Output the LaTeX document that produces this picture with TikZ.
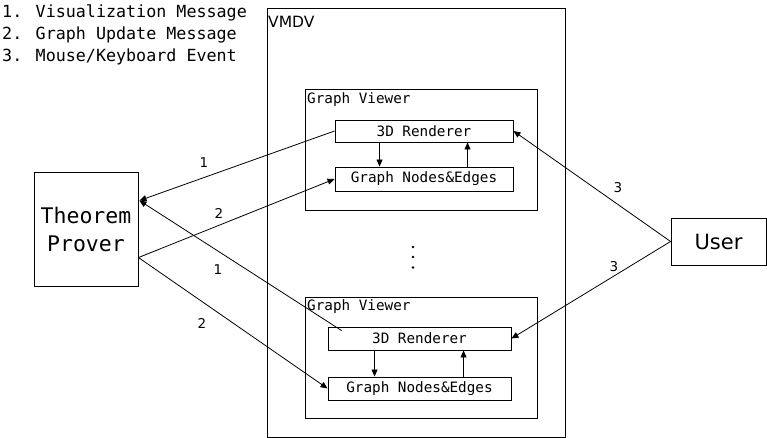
\documentclass[tikz,border=0pt]{standalone}
\usepackage{fontspec}
\newfontfamily\monof{DejaVu Sans Mono}
\newfontfamily\sansf{DejaVu Sans}
\usetikzlibrary{arrows.meta,calc}
\begin{document}
\begin{tikzpicture}[x=1pt,y=-1pt,
  box/.style={draw, line width=0.9pt, inner sep=0pt, anchor=center},
  boxtxt/.style={font=\monof\fontsize{14.3}{17}\selectfont},
  arr/.style={line width=0.8pt, -{Triangle[length=7pt,width=6pt]}},
  num/.style={font=\sansf\fontsize{13.5}{15}\selectfont, inner sep=0pt},
  legend/.style={font=\monof\fontsize{16.7}{20}\selectfont, inner sep=0pt, anchor=base west}]
\useasboundingbox (0,0) rectangle (767,438);
% legend
\node[legend] (l1) at (2,18) {1. Visualization Message};
\node[legend] (l2) at (2,40) {2. Graph Update Message};
\node[legend] (l3) at (2,61.5) {3. Mouse/Keyboard Event};
% VMDV container
\node[box, minimum width=298pt, minimum height=429pt] (vmdv) at (416,222.5) {};
\node[font=\sansf\fontsize{15.5}{18}\selectfont, inner sep=0pt, anchor=base west] (vmdvl) at (268,28) {VMDV};
% top viewer
\node[box, minimum width=232pt, minimum height=121pt] (v1) at (421,149.5) {};
\node[boxtxt, inner sep=0pt, anchor=west] (v1l) at (307,100) {Graph Viewer};
\node[box, boxtxt, minimum width=178pt, minimum height=22pt] (r1) at (424,131) {3D Renderer};
\node[box, boxtxt, minimum width=178pt, minimum height=24pt] (n1) at (424,179) {Graph Nodes\&Edges};
% bottom viewer
\node[box, minimum width=232pt, minimum height=121pt] (v2) at (421,357.5) {};
\node[boxtxt, inner sep=0pt, anchor=west] (v2l) at (307,307) {Graph Viewer};
\node[box, boxtxt, minimum width=183pt, minimum height=23pt] (r2) at (419.5,338.5) {3D Renderer};
\node[box, boxtxt, minimum width=183pt, minimum height=23pt] (n2) at (419.5,388.5) {Graph Nodes\&Edges};
% theorem prover and user
\node[box, minimum width=104pt, minimum height=114pt, align=center,
  font=\monof\fontsize{21.5}{28}\selectfont] (tp) at (86,229) {Theorem\\Prover};
\node[box, minimum width=95pt, minimum height=47pt,
  font=\sansf\fontsize{21}{24}\selectfont] (user) at (718.5,241.5) {User};
% dots
\foreach \yy [count=\i] in {247,257,267.5}
  \fill (413,\yy) circle (1.3pt) coordinate (dot\i);
% inner arrows
\draw[arr] ($(r1.south west)+(45,0)$) -- ($(n1.north west)+(45,0)$);
\draw[arr] ($(n1.north west)+(133,0)$) -- ($(r1.south west)+(133,0)$);
\draw[arr] ($(r2.south west)+(47,0)$) -- ($(n2.north west)+(47,0)$);
\draw[arr] ($(n2.north west)+(136,0)$) -- ($(r2.south west)+(136,0)$);
% connectors to/from theorem prover
\coordinate (tpin) at ($(tp.north east)+(1,29)$);
\coordinate (tpout) at ($(tp.north east)+(0,86)$);
\coordinate (r2in) at ($(r2.north west)+(14,4)$);
\draw[arr] (r1.west) -- (tpin);
\draw[arr] (r2in) -- (tpin);
\draw[arr] (tpout) -- (n1.west);
\draw[arr] (tpout) -- (n2.west);
\node[num] (k1) at (204,163) {1};
\node[num] (k2) at (219,213) {2};
\node[num] (k3) at (218,270) {1};
\node[num] (k4) at (202,323) {2};
% user connectors
\draw[arr] (user.west) -- (r1.east);
\draw[arr] (user.west) -- (r2.east);
\node[num] (k5) at (618,188) {3};
\node[num] (k6) at (614,267) {3};
\end{tikzpicture}
\end{document}
